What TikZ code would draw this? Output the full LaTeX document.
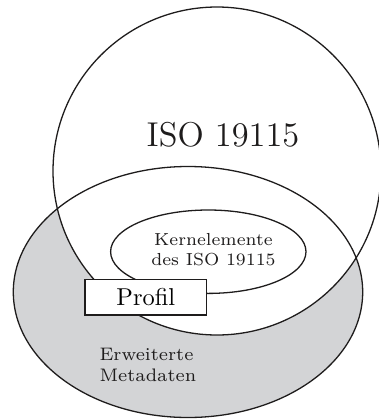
\documentclass[tikz,border=0pt]{standalone}
\definecolor{greyfill}{RGB}{211,212,214}
\definecolor{inkline}{RGB}{30,28,28}
\begin{document}
\begin{tikzpicture}[x=1bp,y=-1bp,
  outline/.style={draw=inkline, line width=1.3pt},
  label/.style={inner sep=0pt, text=inkline},
  profilbox/.style={outline, fill=white, inner sep=0pt, scale=2.45,
    minimum width=49.7bp, minimum height=14.6bp, font=\normalsize}]
\useasboundingbox (0,0) rectangle (379,419);
% shapes
\coordinate (ext) at (188,292);
\coordinate (iso) at (217,171);
\coordinate (core) at (208.3,251.7);
\fill[greyfill] (ext) ellipse [x radius=174.7, y radius=125.5];
\fill[white] (iso) circle [radius=164];
\draw[outline] (ext) ellipse [x radius=174.7, y radius=125.5];
\draw[outline] (iso) circle [radius=164];
\draw[outline, fill=white] (core) ellipse [x radius=97.7, y radius=41.7];
% profile box
\node[profilbox] (profil) at (145.8,297.2) {Profil};
% texts
\node[label, anchor=base, scale=2.4, font=\Large] (isotext) at (223,146) {ISO 19115};
\node[label, anchor=north, align=center, scale=2.5, font=\scriptsize] (coretext) at (213.5,233.2) {Kernelemente\\des ISO 19115};
\node[label, anchor=north west, align=left, scale=2.6, font=\scriptsize] (exttext) at (99,347.5) {Erweiterte\\Metadaten};
\end{tikzpicture}
\end{document}
